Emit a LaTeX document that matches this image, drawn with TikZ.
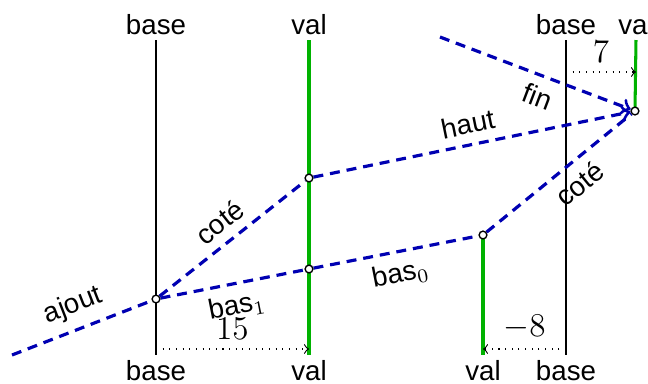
\documentclass[tikz,border=0pt]{standalone}
\usepackage[no-math]{fontspec}
\setmainfont{Liberation Sans}
\pgfdeclarelayer{bg}
\pgfsetlayers{bg,main}
\begin{document}
\begin{tikzpicture}[x=0.0127cm,y=-0.0127cm,
  lbl/.style={font=\fontsize{10}{12}\selectfont},
  num/.style={font=\fontsize{11.5}{13}\selectfont},
  dot/.style={circle,draw,fill=white,inner sep=0pt,minimum size=2.8pt,line width=0.5pt},
  dsh/.style={draw=blue!70!black,line width=1.15pt,dash pattern=on 3.6pt off 2.5pt},
  vline/.style={line width=0.5pt},
  gline/.style={draw=green!70!black,line width=1.1pt},
  meas/.style={dotted,->,line width=0.4pt},
  ]
\useasboundingbox (0,0) rectangle (648,383);
% axis labels
\node[lbl] (b1t) at (156,25) {base};
\node[lbl] (b1b) at (156,371) {base};
\node[lbl] (v1t) at (309,25) {val};
\node[lbl] (v1b) at (309,371) {val};
\node[lbl] (v2b) at (483,371) {val};
\node[lbl] (b2t) at (566,25) {base};
\node[lbl] (b2b) at (566,371) {base};
\node[lbl] (v3t) at (636,25) {val};
% points
\node[dot] (A) at (156,299) {};
\node[dot] (C) at (309,178) {};
\node[dot] (B) at (309,269) {};
\node[dot] (D) at (483,235) {};
\node[dot] (E) at (635,111) {};
\coordinate (S) at (12,355);
\coordinate (F) at (440,37);
\coordinate (b1u) at (156,40);
\coordinate (b1d) at (156,355);
\coordinate (v1u) at (309,40);
\coordinate (v1d) at (309,355);
\coordinate (v2d) at (483,355);
\coordinate (b2u) at (566,40);
\coordinate (b2d) at (566,355);
\coordinate (v3u) at (636,40);
\coordinate (m1a) at (156,349);
\coordinate (m1b) at (309,349);
\coordinate (m2a) at (566,72);
\coordinate (m2b) at (636,72);
\coordinate (m3a) at (566,349);
\coordinate (m3b) at (483,349);
\begin{pgfonlayer}{bg}
\draw[vline] (b1u) -- (b1d);
\draw[vline] (b2u) -- (b2d);
\draw[gline] (v1u) -- (v1d);
\draw[gline] (D.center) -- (v2d);
\draw[gline] (v3u) -- (E.center);
\draw[meas] (m1a) -- (m1b) node[midway,above,num] {$15$};
\draw[meas] (m2a) -- (m2b) node[midway,above,num] {$7$};
\draw[meas] (m3a) -- (m3b) node[midway,above,num] {$-8$};
\draw[dsh] (S) -- (A) node[midway,sloped,above,lbl] {ajout};
\draw[dsh] (A) -- (C) node[midway,sloped,above,lbl] {coté};
\draw[dsh] (A) -- (B) node[midway,sloped,below,lbl] {bas$_1$};
\draw[dsh] (B) -- (D) node[midway,sloped,below,lbl] {bas$_0$};
\draw[dsh,->] (C) -- (E) node[midway,sloped,above,lbl] {haut};
\draw[dsh] (D) -- (E) node[pos=0.55,sloped,below,lbl] {coté};
\draw[dsh,->] (F) -- (E) node[pos=0.55,sloped,below,lbl] {fin};
\end{pgfonlayer}
\end{tikzpicture}
\end{document}
